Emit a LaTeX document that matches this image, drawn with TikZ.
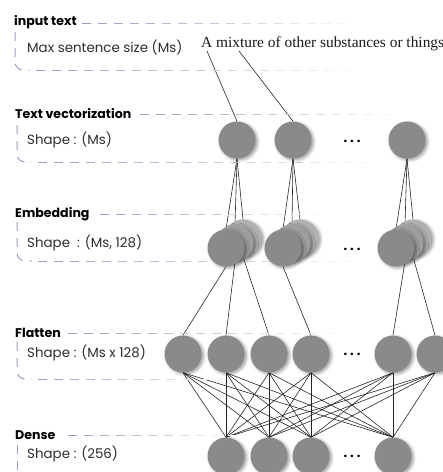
\documentclass[tikz,border=0pt]{standalone}
\usepackage{fontspec}
\setmainfont{Liberation Serif}
\newfontfamily\gothic{Poppins}
\usetikzlibrary{shadows.blur}
\pgfdeclarelayer{bg}
\pgfsetlayers{bg,main}
\definecolor{frontgray}{RGB}{138,138,138}
\definecolor{midgray}{RGB}{158,158,158}
\definecolor{backgray}{RGB}{176,176,176}
\definecolor{dashcol}{RGB}{150,150,190}
\definecolor{txt}{RGB}{45,45,45}
\newcommand{\fadeline}[3]{%
  \pgfmathtruncatemacro{\nd}{((#2)-(#1))/16}%
  \foreach \k in {0,...,\nd}{%
    \pgfmathsetmacro{\xa}{#1+16*\k}%
    \pgfmathtruncatemacro{\op}{95-85*\k/max(\nd,1)}%
    \draw[dashcol!\op, line width=1pt] (\xa,#3) -- ++(9,0);
  }%
}
\begin{document}
\begin{tikzpicture}[x=1pt,y=-1pt,
  neuron/.style={circle, minimum size=37pt, inner sep=0pt, fill=frontgray,
    blur shadow={shadow xshift=2pt, shadow yshift=-1.5pt, shadow blur radius=3pt, shadow opacity=40}},
  neuronmid/.style={neuron, fill=midgray},
  neuronback/.style={neuron, fill=backgray},
  title/.style={anchor=west, inner sep=0pt, text=black, font=\gothic\bfseries\fontsize{12.6}{15}\selectfont},
  sub/.style={anchor=west, inner sep=0pt, text=txt, font=\gothic\fontsize{13.4}{15}\selectfont},
  dots/.style={inner sep=0pt, text=black, font=\gothic\bfseries\fontsize{13}{13}\selectfont},
  framecorner/.style={draw=dashcol!95, line width=1pt, dash pattern=on 9pt off 7pt, rounded corners=8pt},
  conn/.style={draw=black!85, line width=0.6pt}
]
\useasboundingbox (0,0) rectangle (443,472);
\clip (0,0) rectangle (443,472);

% ---------- labels ----------
\node[title] (t1) at (14,22) {input text};
\node[sub] (s1) at (27,47) {Max sentence size (Ms)};
\node[title] (t2) at (15,114) {Text vectorization};
\node[sub] (s2) at (27,140) {Shape : (Ms)};
\node[title] (t3) at (15,214) {Embedding};
\node[sub] (s3) at (27,243) {Shape\ \ : (Ms, 128)};
\node[title] (t4) at (15,333) {Flatten};
\node[sub] (s4) at (27,353) {Shape : (Ms x 128)};
\node[title] (t5) at (15,435) {Dense};
\node[sub] (s5) at (27,454) {Shape : (256)};

% ---------- dashed frames ----------
\fadeline{82}{340}{23}
\path[framecorner] (15,32) -- (15,70) -- (30,70);
\fadeline{36}{340}{70}
\fadeline{140}{390}{114}
\path[framecorner] (17,125) -- (17,162) -- (32,162);
\fadeline{38}{360}{162}
\fadeline{100}{320}{214}
\path[framecorner] (17,222) -- (17,261) -- (32,261);
\fadeline{38}{345}{261}
\fadeline{68}{330}{333}
\path[framecorner] (17,342) -- (17,379) -- (32,379);
\fadeline{38}{215}{379}
\fadeline{68}{235}{435}
\path[framecorner] (17,445) -- (17,480);

% ---------- sentence ----------
\node[anchor=base west, inner sep=0pt, text=black!90, font=\fontsize{15.4}{18}\selectfont] (sent) at (201,47) {A mixture of other substances or things};
\coordinate (wA) at (207,51);
\coordinate (wt) at (239,51);

% ---------- text vectorization ----------
\node[neuron] (tv1) at (237,140) {};
\node[neuron] (tv2) at (293,140) {};
\node[dots] (tvd) at (352,141) {.\hspace{3pt}.\hspace{3pt}.};
\node[neuron] (tv3) at (407,140) {};

% ---------- embedding ----------
\foreach \g/\x in {1/226,2/283,3/396}{
  \node[neuronback] (em\g c) at (\x+17,238) {};
  \node[neuronmid] (em\g b) at (\x+9,243) {};
  \node[neuron] (em\g a) at (\x,248) {};
}
\node[dots] (emd) at (352,249) {.\hspace{3pt}.\hspace{3pt}.};

% ---------- flatten ----------
\foreach \i/\x in {1/183,2/226,3/269,4/311,5/393,6/435}{
  \node[neuron] (fl\i) at (\x,354) {};
}
\node[dots] (fld) at (352,354) {.\hspace{3pt}.\hspace{3pt}.};

% ---------- dense ----------
\foreach \i/\x in {1/226,2/269,3/311,4/393}{
  \node[neuron] (de\i) at (\x,456) {};
}
\node[dots] (ded) at (352,456) {.\hspace{3pt}.\hspace{3pt}.};

% ---------- connectors ----------
\begin{pgfonlayer}{bg}
  \draw[conn] (wA) -- (tv1.north);
  \draw[conn] (wt) -- (tv2.north);
  \foreach \g in {1,2,3}{
    \foreach \s in {a,b,c}{
      \draw[conn] (tv\g.south) -- (em\g\s.north);
    }
  }
  \draw[conn] (em1a.south) -- (fl1.north);
  \draw[conn] (em1b.south) -- (fl2.north);
  \draw[conn] (em1c.south) -- (fl3.north);
  \draw[conn] (em2a.south) -- (fl4.north);
  \draw[conn] (em3b.south) -- (fl5.north);
  \draw[conn] (em3c.south) -- (fl6.north);
  \foreach \i in {1,...,6}{
    \foreach \j in {1,...,4}{
      \draw[conn] (fl\i.south) -- (de\j.north);
    }
  }
\end{pgfonlayer}
\end{tikzpicture}
\end{document}
